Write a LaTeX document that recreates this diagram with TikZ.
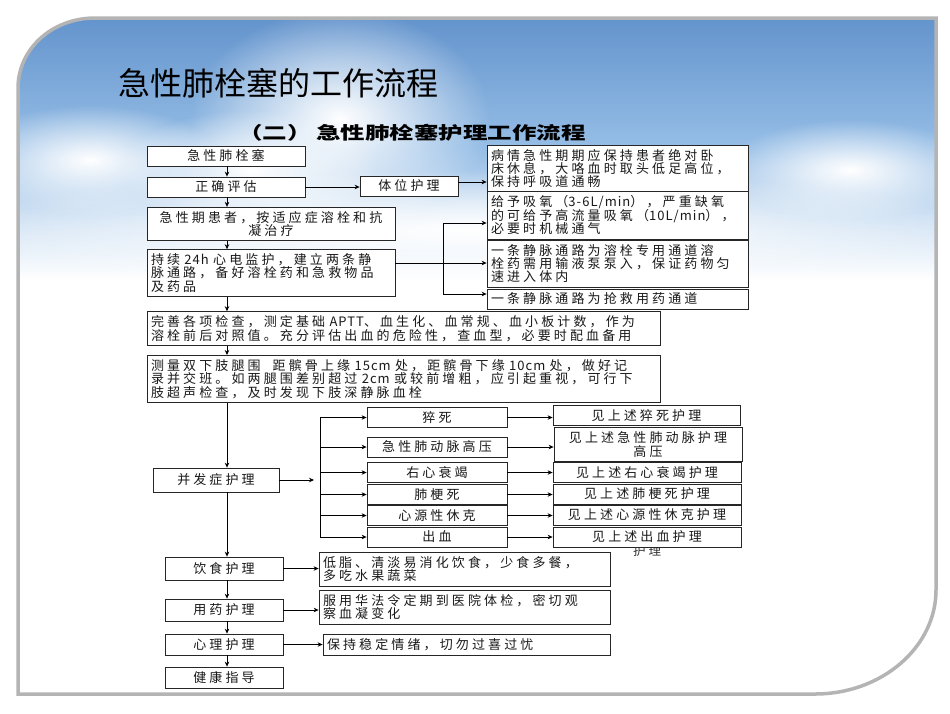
\documentclass[tikz,border=0pt]{standalone}
\usepackage{fontspec}
\usetikzlibrary{arrows.meta,fadings}
\newfontfamily\cjk[LetterSpace=24]{Noto Sans CJK SC}
\newfontfamily\cjkl[LetterSpace=8]{Noto Sans CJK SC}
\newfontfamily\cjkt{Noto Sans CJK SC}
\newcommand\lt[1]{{\cjkl #1}}
\definecolor{skytop}{RGB}{100,148,205}
\definecolor{skymid}{RGB}{150,190,230}
\definecolor{framegray}{RGB}{180,180,180}
\tikzfading[name=cloudfade, inner color=transparent!0, outer color=transparent!100]
\tikzset{
  bx/.style={draw=black!85, fill=white, line width=0.8pt, inner sep=4pt, text=black!90,
    font={\cjk\fontsize{13}{13.4}\selectfont}},
  sz/.style 2 args={minimum width=#1pt, minimum height=#2pt},
  arr/.style={-{Stealth[length=5pt,width=4.5pt]}, line width=0.7pt, draw=black},
  ln/.style={line width=0.7pt, draw=black},
}
\begin{document}
\begin{tikzpicture}[x=1pt,y=-1pt]
\useasboundingbox (0,0) rectangle (950,713);
% ---- slide background ----
\begin{scope}
\clip (18,88) .. controls (18,49) and (52,18) .. (95,18) -- (936,18) -- (936,590)
      .. controls (936,647) and (882,694) .. (815,694) -- (18,694) -- cycle;
\fill[white] (0,0) rectangle (950,713);
\shade[top color=skytop, bottom color=white, middle color=skymid] (0,18) rectangle (950,280);
\fill[white, path fading=cloudfade] (340,120) ellipse [x radius=150, y radius=110];
\fill[white, path fading=cloudfade] (250,170) ellipse [x radius=130, y radius=60];
\fill[white, path fading=cloudfade] (90,160) ellipse [x radius=130, y radius=55];
\fill[white, path fading=cloudfade] (850,170) ellipse [x radius=130, y radius=50];
\fill[white, path fading=cloudfade] (470,230) ellipse [x radius=520, y radius=60];
\end{scope}
\draw[framegray, line width=3.5pt] (18,88) .. controls (18,49) and (52,18) .. (95,18) -- (936,18) -- (936,590)
      .. controls (936,647) and (882,694) .. (815,694) -- (18,694) -- cycle;
% ---- titles ----
\node[anchor=west, inner sep=0pt, font={\cjkt\fontsize{32}{36}\selectfont}] (title) at (118,83) {急性肺栓塞的工作流程};
\node[inner sep=0pt, font={\cjkt\bfseries\fontsize{17.5}{20}\selectfont}] (sub) at (412,133)
  {\scalebox{1.4}[1]{（二）\hspace{3pt}急性肺栓塞护理工作流程}};
% ---- spine ----
\coordinate (sp) at (227,0);
% ---- left column ----
\node[bx, sz={158}{18}] (n1) at (226,156) {急性肺栓塞};
\node[bx, sz={158}{18}] (n2) at (226,187) {正确评估};
\node[bx, sz={248}{32}, align=center] (n3) at (271,224) {急性期患者，按适应症溶栓和抗\\凝治疗};
\node[bx, minimum height=46pt, text width=240pt, align=left] (n4) at (271,273)
  {持续~\lt{24h}~心电监护，建立两条静\\脉通路，备好溶栓药和急救物品\\及药品};
\node[bx, minimum height=33pt, text width=505pt, align=left] (n5) at (403.5,328.5)
  {完善各项检查，测定基础~\lt{APTT}、血生化、血常规、血小板计数，作为\\溶栓前后对照值。充分评估出血的危险性，查血型，必要时配血备用};
\node[bx, minimum height=46pt, text width=505pt, align=left] (n6) at (403.5,379)
  {测量双下肢腿围\hspace{12pt}距髌骨上缘~\lt{15cm}~处，距髌骨下缘~\lt{10cm}~处，做好记\\录并交班。如两腿围差别超过~\lt{2cm}~或较前增粗，应引起重视，可行下\\肢超声检查，及时发现下肢深静脉血栓};
\node[bx, sz={126}{24}] (n7) at (216,480) {并发症护理};
\node[bx, sz={118}{23}] (n8) at (224,568.5) {饮食护理};
\node[bx, sz={118}{22}] (n9) at (224,610) {用药护理};
\node[bx, sz={118}{21}] (n10) at (224,644.5) {心理护理};
\node[bx, sz={118}{21}] (n11) at (224,677.5) {健康指导};
% ---- upper right ----
\node[bx, sz={98}{20}] (r1) at (409,186) {体位护理};
\node[bx, minimum height=43pt, text width=253pt, align=left] (r2) at (617.5,168.5)
  {病情急性期期应保持患者绝对卧\\床休息，大咯血时取头低足高位，\\保持呼吸道通畅};
\node[bx, minimum height=44pt, text width=253pt, align=left] (r3) at (617.5,215)
  {给予吸氧（\lt{3-6L/min}），严重缺氧\\的可给予高流量吸氧（\lt{10L/min}），\\必要时机械通气};
\node[bx, minimum height=45pt, text width=253pt, align=left] (r4) at (617.5,263.5)
  {一条静脉通路为溶栓专用通道溶\\栓药需用输液泵泵入，保证药物匀\\速进入体内};
\node[bx, minimum height=18pt, text width=253pt, align=left] (r5) at (617.5,299)
  {一条静脉通路为抢救用药通道};
% ---- complications ----
\node[bx, sz={140}{19}] (m1) at (437,417.5) {猝死};
\node[bx, sz={140}{20}] (m2) at (437,447) {急性肺动脉高压};
\node[bx, sz={140}{19}] (m3) at (437,472.5) {右心衰竭};
\node[bx, sz={140}{19}] (m4) at (437,494.5) {肺梗死};
\node[bx, sz={140}{19}] (m5) at (437,515.5) {心源性休克};
\node[bx, sz={140}{20}] (m6) at (437,537) {出血};
\node[inner sep=0pt, text=black!80, font={\cjk\fontsize{12.5}{12.5}\selectfont}] (ovf) at (647,551) {护理};
\node[bx, sz={187}{19}] (k1) at (646.5,415.5) {见上述猝死护理};
\node[bx, sz={188}{33}, align=center] (k2) at (648,444.5) {见上述急性肺动脉护理\\高压};
\node[bx, sz={188}{19}] (k3) at (647,472.5) {见上述右心衰竭护理};
\node[bx, sz={188}{18}] (k4) at (647,494) {见上述肺梗死护理};
\node[bx, sz={188}{18}] (k5) at (647,515) {见上述心源性休克护理};
\node[bx, sz={188}{20}] (k6) at (647,537) {见上述出血护理};
% ---- lower right ----
\node[bx, minimum height=34pt, text width=283pt, align=left] (d1) at (464.5,569)
  {低脂、清淡易消化饮食，少食多餐，\\多吃水果蔬菜};
\node[bx, minimum height=34pt, text width=283pt, align=left] (d2) at (464.5,607)
  {服用华法令定期到医院体检，密切观\\察血凝变化};
\node[bx, minimum height=21pt, text width=279pt, align=left] (d3) at (466.5,644.5)
  {保持稳定情绪，切勿过喜过忧};
% ---- spine arrows ----
\draw[arr] (n1.south -| sp) -- (n2.north -| sp);
\draw[arr] (n2.south -| sp) -- (n3.north -| sp);
\draw[arr] (n3.south -| sp) -- (n4.north -| sp);
\draw[arr] (n4.south -| sp) -- (n5.north -| sp);
\draw[arr] (n5.south -| sp) -- (n6.north -| sp);
\draw[arr] (n6.south -| sp) -- (n7.north -| sp);
\draw[arr] (n7.south -| sp) -- (n8.north -| sp);
\draw[arr] (n8.south -| sp) -- (n9.north -| sp);
\draw[arr] (n9.south -| sp) -- (n10.north -| sp);
\draw[arr] (n10.south -| sp) -- (n11.north -| sp);
% ---- upper branches ----
\draw[arr] (n2.east) -- (n2.east -| r1.west);
\draw[arr] ([yshift=4pt]r1.east) -- ([yshift=4pt]r1.east -| r2.west);
\coordinate (b1) at (443,223);
\coordinate (b0) at (443,263);
\coordinate (b2) at (443,294);
\draw[ln] (b1) -- (b2);
\draw[arr] (b1) -- (b1 -| r3.west);
\draw[arr] (n4.east |- b0) -- (b0 -| r4.west);
\draw[arr] (b2) -- (b2 -| r5.west);
% ---- complication branches ----
\coordinate (c0) at (314,480);
\draw[arr] (n7.east) -- (c0);
\coordinate (cb1) at (320,417.5);
\coordinate (cb2) at (320,537);
\draw[ln] (cb1) -- (cb2);
\foreach \m in {m1,m2,m3,m4,m5,m6} {
  \draw[arr] (\m.west -| cb1) -- (\m.west);
}
\draw[arr] (m1.east) -- (m1.east -| k1.west);
\draw[arr] (m2.east) -- (m2.east -| k2.west);
\draw[arr] (m3.east) -- (m3.east -| k3.west);
\draw[arr] (m4.east) -- (m4.east -| k4.west);
\draw[arr] (m5.east) -- (m5.east -| k5.west);
\draw[arr] (m6.east) -- (m6.east -| k6.west);
% ---- lower branches ----
\draw[arr] (n8.east) -- (n8.east -| d1.west);
\draw[arr] (n9.east) -- (n9.east -| d2.west);
\draw[arr] (n10.east) -- (n10.east -| d3.west);
\end{tikzpicture}
\end{document}
